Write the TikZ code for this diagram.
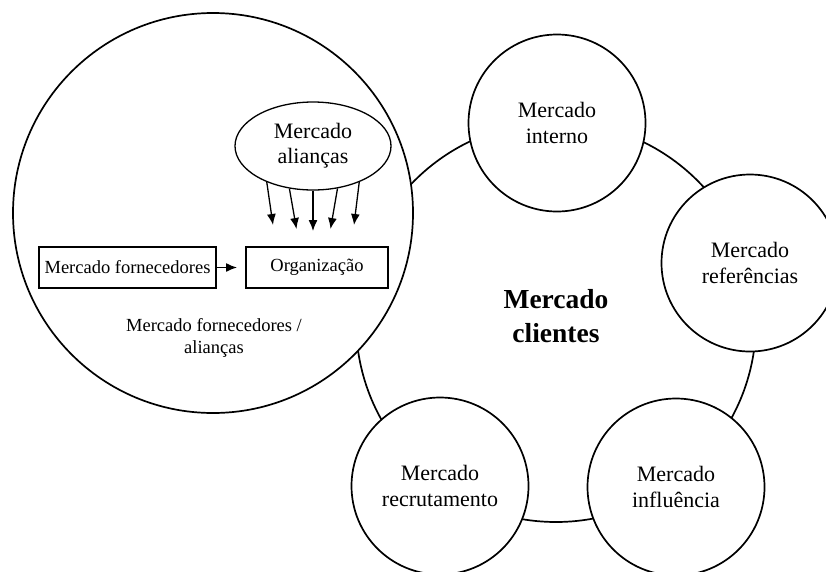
\documentclass[tikz,border=0pt]{standalone}
\usepackage{fontspec}
\setmainfont{Liberation Serif}
\usetikzlibrary{shapes.geometric,arrows.meta}
\begin{document}
\begin{tikzpicture}[x=1pt,y=-1pt,
  ringline/.style={circle,draw,line width=1.7pt,minimum size=400pt,inner sep=0pt},
  market/.style={circle,draw,line width=1.7pt,fill=white,minimum size=177pt,inner sep=0pt,
    align=center,font=\fontsize{22}{26}\selectfont},
  bigmarket/.style={circle,draw,line width=1.7pt,fill=white,minimum size=400pt,inner sep=0pt},
  box/.style={draw,line width=1.3pt,minimum height=41pt,inner sep=0pt,
    font=\fontsize{18.5}{22}\selectfont},
  plain/.style={align=center,inner sep=0pt,font=\fontsize{18.5}{22}\selectfont},
  flow/.style={line width=1.3pt,-{Latex[length=11pt,width=9pt]}}
]
\useasboundingbox (0,0) rectangle (826,571);
\clip (0,0) rectangle (826,571);

% customer market ring and its label
\node[ringline] (ring) at (556,322) {};
\node[align=center,inner sep=0pt,font=\fontsize{27.5}{34}\bfseries\selectfont]
  (clientes) at (556,316) {Mercado\\clientes};

% satellite markets sitting on the ring
\node[market] (interno) at (557,123) {Mercado\\interno};
\node[market] (referencias) at (750,263) {Mercado\\referências};
\node[market] (influencia) at (676,487) {Mercado\\influência};
\node[market] (recrutamento) at (440,486) {Mercado\\recrutamento};

% supplier / alliance market
\node[bigmarket] (fornec) at (213,213) {};

\node[ellipse,draw,line width=1.3pt,fill=white,minimum width=156pt,minimum height=88pt,
  inner sep=0pt,align=center,font=\fontsize{22}{25}\selectfont]
  (aliancas) at (313,146) {Mercado\\alianças};

\node[box,minimum width=177pt] (fornecedores) at (127.5,267.5) {Mercado fornecedores};
\node[box,minimum width=142pt] (organizacao) at (317,267.5) {Organização};

\node[plain] (fornlabel) at (214,338) {Mercado fornecedores /\\alianças};

% arrows into the organisation
\coordinate (t0) at (237,267.5);
\draw[flow] (fornecedores.east) -- (t0);

\coordinate (t1) at (273,225);
\coordinate (t2) at (296.5,229);
\coordinate (t3) at (313,231);
\coordinate (t4) at (330.5,229);
\coordinate (t5) at (354,225);
\draw[flow] (aliancas.218) -- (t1);
\draw[flow] (aliancas.241) -- (t2);
\draw[flow] (aliancas.270) -- (t3);
\draw[flow] (aliancas.300) -- (t4);
\draw[flow] (aliancas.322) -- (t5);
\end{tikzpicture}
\end{document}
